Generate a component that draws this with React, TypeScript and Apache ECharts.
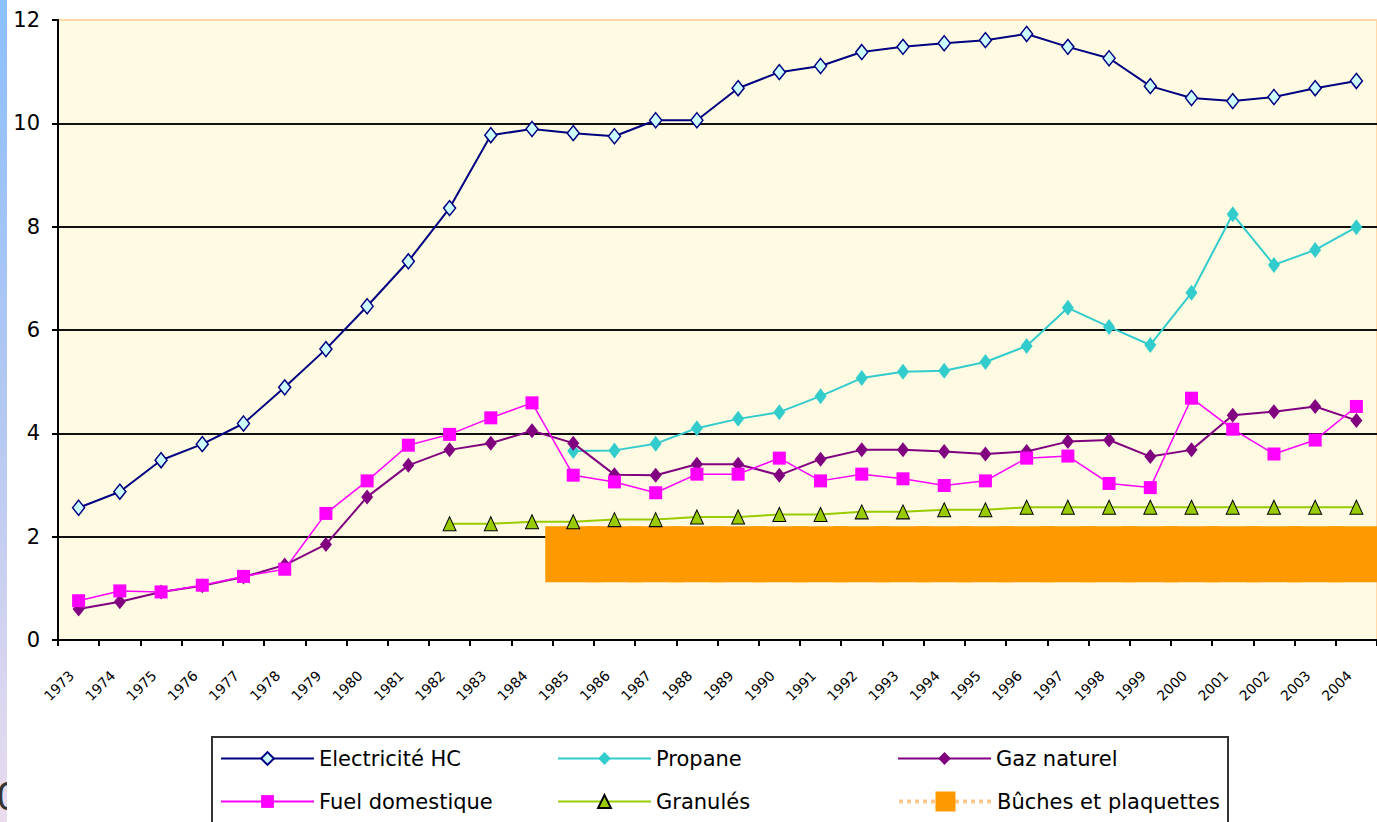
import React, { useEffect, useRef } from "react";
import * as echarts from "echarts";

// Years on the category axis
const years = [
  "1973", "1974", "1975", "1976", "1977", "1978", "1979", "1980", "1981", "1982",
  "1983", "1984", "1985", "1986", "1987", "1988", "1989", "1990", "1991", "1992",
  "1993", "1994", "1995", "1996", "1997", "1998", "1999", "2000", "2001", "2002",
  "2003", "2004",
];

// Y axis tick values
const yTicks = [0, 2, 4, 6, 8, 10, 12];

const electricite = [
  2.56, 2.87, 3.48, 3.79, 4.19, 4.89, 5.63, 6.46, 7.33, 8.36, 9.77, 9.89,
  9.81, 9.75, 10.06, 10.06, 10.68, 10.99, 11.11, 11.38, 11.48, 11.55, 11.61, 11.73,
  11.48, 11.26, 10.72, 10.49, 10.43, 10.51, 10.68, 10.82,
];

const propane = [
  null, null, null, null, null, null, null, null, null, null, null, null,
  3.66, 3.67, 3.8, 4.1, 4.28, 4.41, 4.72, 5.07, 5.19, 5.21, 5.38, 5.69,
  6.43, 6.06, 5.71, 6.72, 8.24, 7.26, 7.55, 7.99,
];

const gazNaturel = [
  0.6, 0.74, 0.93, 1.05, 1.22, 1.45, 1.85, 2.77, 3.38, 3.68, 3.81, 4.05,
  3.81, 3.2, 3.19, 3.4, 3.4, 3.19, 3.5, 3.68, 3.68, 3.65, 3.6, 3.65,
  3.84, 3.87, 3.55, 3.68, 4.35, 4.42, 4.52, 4.25,
];

const fuelDomestique = [
  0.76, 0.95, 0.93, 1.06, 1.23, 1.37, 2.45, 3.08, 3.77, 3.98, 4.3, 4.59,
  3.19, 3.06, 2.85, 3.21, 3.21, 3.52, 3.08, 3.21, 3.12, 2.99, 3.08, 3.52,
  3.56, 3.03, 2.95, 4.68, 4.08, 3.6, 3.87, 4.52,
];

const granules = [
  null, null, null, null, null, null, null, null, null,
  2.25, 2.25, 2.29, 2.29, 2.33, 2.33, 2.38, 2.38, 2.43, 2.43, 2.48, 2.48,
  2.52, 2.52, 2.57, 2.57, 2.57, 2.57, 2.57, 2.57, 2.57, 2.57, 2.57,
];

const buches = [
  null, null, null, null, null, null, null, null, null, null, null, null,
  1.66, 1.66, 1.66, 1.66, 1.66, 1.66, 1.66, 1.66, 1.66, 1.66, 1.66, 1.66,
  1.66, 1.66, 1.66, 1.66, 1.66, 1.66, 1.66, 1.66,
];

const FONT = "DejaVu Sans";

function legendItem(name: string, left: number, top: number, itemHeight: number, extra: object = {}) {
  return {
    data: [name],
    left,
    top,
    padding: 0,
    itemWidth: 93,
    itemHeight,
    itemGap: 0,
    selectedMode: false,
    textStyle: { fontFamily: FONT, fontSize: 21, color: "#000" },
    ...extra,
  };
}

export default function App() {
  const ref = useRef<HTMLDivElement>(null);

  useEffect(() => {
    if (!ref.current) return;
    const chart = echarts.init(ref.current, null, { renderer: "svg" });

    chart.setOption({
      animation: false,
      backgroundColor: "#ffffff",
      grid: {
        left: 58,
        top: 20,
        width: 1328,
        height: 620,
        show: true,
        backgroundColor: "#FFFAE2",
        borderColor: "#FFD7A8",
        borderWidth: 2,
        containLabel: false,
      },
      xAxis: {
        type: "category",
        data: years,
        boundaryGap: true,
        axisLine: { show: true, lineStyle: { color: "#000", width: 2 } },
        axisTick: { show: true, length: 6, alignWithLabel: false, interval: 0, lineStyle: { color: "#000", width: 2 } },
        axisLabel: {
          interval: 0,
          rotate: 45,
          margin: 26,
          padding: [0, 10, 0, 0],
          fontFamily: FONT,
          fontSize: 14,
          color: "#000",
        },
        splitLine: { show: false },
      },
      yAxis: {
        type: "value",
        min: yTicks[0],
        max: yTicks[yTicks.length - 1],
        interval: 2,
        axisLine: { show: true, lineStyle: { color: "#000", width: 2 } },
        axisTick: { show: true, length: 6, lineStyle: { color: "#000", width: 2 } },
        axisLabel: { margin: 18, fontFamily: FONT, fontSize: 21, color: "#000" },
        splitLine: {
          show: true,
          lineStyle: {
            color: ["#111", "#111", "#111", "#111", "#111", "#111", "#FFD7A8"],
            width: 2,
          },
        },
      },
      legend: [
        legendItem("Electricité HC", 220, 748, 16),
        legendItem("Propane", 557, 748, 16),
        legendItem("Gaz naturel", 897, 748, 16),
        legendItem("Fuel domestique", 220, 791, 16),
        legendItem("Granulés", 557, 791, 16),
        legendItem("Bûches et plaquettes", 897, 791, 25, {
          lineStyle: { color: "#FFC98C", width: 4, type: "dotted" },
        }),
      ],
      graphic: [
        {
          type: "rect",
          z: 0,
          shape: { x: 0, y: 0, width: 7, height: 822 },
          style: {
            fill: new echarts.graphic.LinearGradient(0, 0, 0, 1, [
              { offset: 0, color: "#8CC0FF" },
              { offset: 0.5, color: "#B4C8F2" },
              { offset: 1, color: "#EADCEE" },
            ]),
          },
        },
        {
          type: "text",
          z: 0,
          left: -3,
          top: 776,
          style: { text: "0", fontFamily: "Liberation Sans", fontSize: 40, fill: "#333" },
        },
        {
          type: "rect",
          z: 1,
          shape: { x: 7, y: 740, width: 40, height: 82 },
          style: { fill: "#ffffff" },
        },
        {
          type: "rect",
          z: 1,
          shape: { x: 212, y: 737, width: 1016, height: 120 },
          style: { fill: "#ffffff", stroke: "#333333", lineWidth: 2 },
        },
      ],
      series: [
        {
          name: "Bûches et plaquettes",
          type: "line",
          data: buches,
          z: 1,
          showAllSymbol: true,
          symbol: "rect",
          symbolSize: 56,
          lineStyle: { color: "#FFC98C", width: 4, type: "dotted" },
          itemStyle: { color: "#FF9900", borderWidth: 0 },
        },
        {
          name: "Electricité HC",
          type: "line",
          data: electricite,
          z: 3,
          showAllSymbol: true,
          symbol: "diamond",
          symbolSize: [12, 15],
          lineStyle: { color: "#000080", width: 2 },
          itemStyle: { color: "#CCFFFF", borderColor: "#000080", borderWidth: 1.5 },
        },
        {
          name: "Propane",
          type: "line",
          data: propane,
          z: 3,
          showAllSymbol: true,
          symbol: "diamond",
          symbolSize: [12, 16],
          lineStyle: { color: "#33CCCC", width: 2 },
          itemStyle: { color: "#33CCCC" },
        },
        {
          name: "Gaz naturel",
          type: "line",
          data: gazNaturel,
          z: 3,
          showAllSymbol: true,
          symbol: "diamond",
          symbolSize: [12, 15],
          lineStyle: { color: "#800080", width: 2 },
          itemStyle: { color: "#800080" },
        },
        {
          name: "Fuel domestique",
          type: "line",
          data: fuelDomestique,
          z: 3,
          showAllSymbol: true,
          symbol: "rect",
          symbolSize: 13,
          lineStyle: { color: "#FF00FF", width: 1.5 },
          itemStyle: { color: "#FF00FF" },
        },
        {
          name: "Granulés",
          type: "line",
          data: granules,
          z: 3,
          showAllSymbol: true,
          symbol: "triangle",
          symbolSize: [13, 14],
          lineStyle: { color: "#99CC00", width: 2 },
          itemStyle: { color: "#99CC00", borderColor: "#000", borderWidth: 1 },
        },
      ],
    });

    return () => chart.dispose();
  }, []);

  return (
    <div
      ref={ref}
      style={{ position: "absolute", left: 0, top: 0, width: 1377, height: 822, overflow: "hidden", background: "#fff" }}
    />
  );
}
